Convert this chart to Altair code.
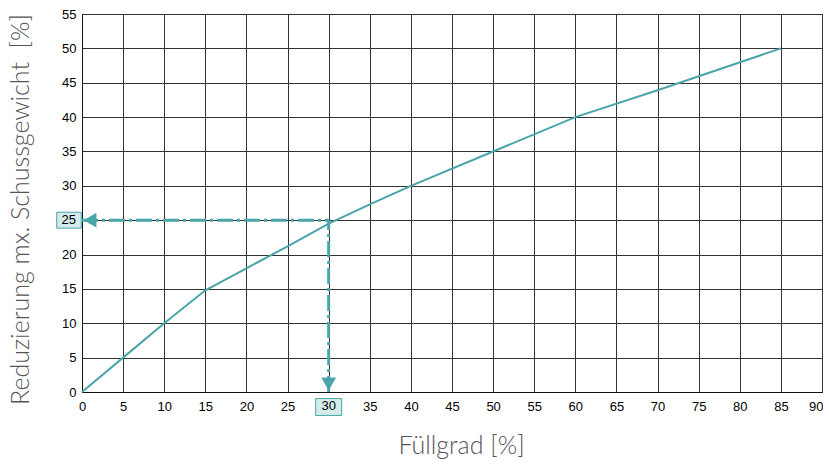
import altair as alt
import pandas as pd

# Curve data
fill_pct = [0, 5, 10, 15, 20, 25, 30, 35, 40, 50, 60, 70, 85]
reduction_pct = [0, 5, 10, 14.8, 18, 21.2, 24.5, 27.3, 30, 35, 40, 43.9, 50]

# Read-off example
read_x = 30
read_y = 25

x_ticks = list(range(0, 95, 5))
y_ticks = list(range(0, 60, 5))

TEAL = "#4aa5a8"
LIGHT = "#d3ebeb"

df = pd.DataFrame({"x": fill_pct, "y": reduction_pct})

xs = alt.Scale(domain=[0, 90], nice=False, zero=False)
ys = alt.Scale(domain=[0, 55], nice=False, zero=False)

x_axis = alt.Axis(values=x_ticks, title="Füllgrad [%]", grid=True, ticks=False,
                  labelPadding=8, labelOverlap=False, labelFlush=False,
                  labelAlign=alt.ExprRef(expr="datum.value == 90 ? 'right' : 'center'"),
                  labelOffset=alt.ExprRef(expr="datum.value == 90 ? 1 : 0"),
                  titleX=379, titleY=61, titleBaseline="alphabetic", titleAnchor="middle")
y_axis = alt.Axis(values=y_ticks, title="Reduzierung mx. Schussgewicht\u00a0\u00a0[%]",
                  grid=True, ticks=False, labelPadding=6,
                  labelOverlap=False, labelFlush=False,
                  titleX=-54, titleY=195, titleBaseline="alphabetic", titleAnchor="middle")


def X(field):
    return alt.X(field, type="quantitative", scale=xs, axis=x_axis)


def Y(field):
    return alt.Y(field, type="quantitative", scale=ys, axis=y_axis)


base = alt.Chart(df)

curve = base.mark_line(color=TEAL, strokeWidth=2).encode(x=X("x"), y=Y("y"))

ann = pd.DataFrame({"x": [read_x], "y": [read_y], "x0": [0], "y0": [0],
                    "lx": [str(read_x)], "ly": [str(read_y)]})
abase = alt.Chart(ann)

hline = abase.mark_rule(color=TEAL, strokeWidth=3, strokeDash=[16, 4, 3, 4]).encode(
    x=X("x0"), x2="x:Q", y=Y("y"))
vline = abase.mark_rule(color=TEAL, strokeWidth=3, strokeDash=[16, 4, 3, 4]).encode(
    x=X("x"), y=Y("y0"), y2="y:Q")

arrow_left = abase.mark_point(shape="triangle-left", filled=True, color=TEAL, opacity=1,
                              size=220, xOffset=8).encode(x=X("x0"), y=Y("y"))
arrow_down = abase.mark_point(shape="triangle-down", filled=True, color=TEAL, opacity=1,
                              size=220, yOffset=-8).encode(x=X("x"), y=Y("y0"))

box_shape = "M-1,-0.65L1,-0.65L1,0.65L-1,0.65Z"
box_y = abase.mark_point(shape=box_shape, filled=True, fill=LIGHT, stroke=TEAL, strokeWidth=1,
                         opacity=1, size=600, xOffset=-13).encode(x=X("x0"), y=Y("y"))
box_x = abase.mark_point(shape=box_shape, filled=True, fill=LIGHT, stroke=TEAL, strokeWidth=1,
                         opacity=1, size=676, yOffset=15).encode(x=X("x"), y=Y("y0"))

txt_y = abase.mark_text(font="Liberation Sans", fontSize=13, color="#000", align="right",
                        baseline="middle", dx=-6).encode(x=X("x0"), y=Y("y"), text="ly:N")
txt_x = abase.mark_text(font="Liberation Sans", fontSize=13, color="#000", align="center",
                        baseline="top", dy=8).encode(x=X("x"), y=Y("y0"), text="lx:N")

chart = alt.layer(curve, hline, vline, arrow_left, arrow_down,
                  box_y, box_x, txt_y, txt_x).properties(
    width=740, height=378,
    autosize=alt.AutoSizeParams(type="none"),
    padding={"left": 74, "top": 6, "right": 1, "bottom": 70},
).configure_view(stroke="#222", strokeWidth=1).configure_axis(
    gridColor="#333", gridWidth=1, gridOpacity=1,
    domainColor="#111", domainWidth=1,
    labelFont="Liberation Sans", labelFontSize=13, labelColor="#000",
    titleFont="Lato", titleFontWeight=300, titleFontSize=25, titleColor="#555",
)

chart.save("out.html", embed_options={"renderer": "svg", "actions": False})
